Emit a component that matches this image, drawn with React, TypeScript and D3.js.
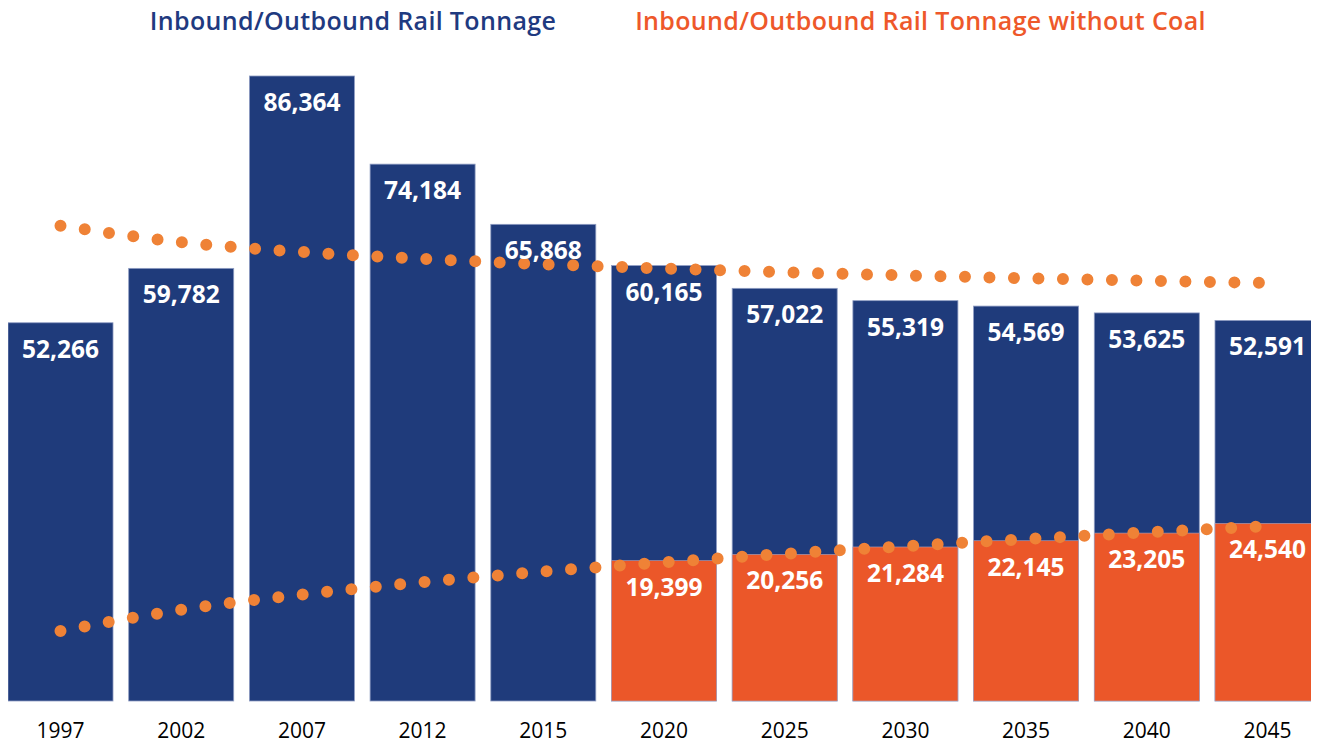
import React from "react";
import * as d3 from "d3";

const years = ["1997", "2002", "2007", "2012", "2015", "2020", "2025", "2030", "2035", "2040", "2045"];
const totalTonnage = [52266, 59782, 86364, 74184, 65868, 60165, 57022, 55319, 54569, 53625, 52591];
const withoutCoal: (number | null)[] = [null, null, null, null, null, 19399, 20256, 21284, 22145, 23205, 24540];
// dotted trend lines, values at each category
const totalTrend = [65680, 63390, 62050, 61100, 60360, 59760, 59250, 58810, 58420, 58080, 57760];
const noCoalTrend = [9670, 12600, 14710, 16420, 17880, 19170, 20330, 21400, 22380, 23300, 24160];
const titles = ["Inbound/Outbound Rail Tonnage", "Inbound/Outbound Rail Tonnage without Coal"];

const W = 1319;
const H = 745;
const BLUE = "#1F3B7B";
const ORANGE = "#EB5729";
const DOT = "#EF8236";

export default function App() {
  const x = d3.scaleBand<string>().domain(years).range([8, 1320]).paddingInner(0.13).paddingOuter(0);
  const y = d3.scaleLinear().domain([0, 90000]).range([701, 701 - 90000 * 0.0072368]);
  const fmt = d3.format(",");
  const cx = (i: number) => (x(years[i]) as number) + x.bandwidth() / 2;
  const line = d3
    .line<number>()
    .x((_, i) => cx(i))
    .y((d) => y(d))
    .curve(d3.curveMonotoneX);

  const labelFont = { fontFamily: "'Open Sans', sans-serif", fontWeight: 700, fontSize: 24.5 };
  const titleFont = { fontFamily: "'Open Sans', sans-serif", fontWeight: 600, fontSize: 25, letterSpacing: 0.35 };

  return (
    <svg width={W} height={H} style={{ display: "block", overflow: "hidden", margin: "-8px 0 0 -8px" }}>
      <text x={353} y={29.5} textAnchor="middle" fill="#1F3A80" style={titleFont}>
        {titles[0]}
      </text>
      <text x={920.5} y={29.5} textAnchor="middle" fill="#EE582A" style={titleFont}>
        {titles[1]}
      </text>
      {totalTonnage.map((v, i) => (
        <rect key={"b" + i} x={x(years[i])} y={y(v)} width={x.bandwidth()} height={y(0) - y(v)} fill={BLUE} stroke="#8E9CC2" strokeWidth={0.8} />
      ))}
      {withoutCoal.map((v, i) =>
        v == null ? null : (
          <rect key={"o" + i} x={x(years[i])} y={y(v)} width={x.bandwidth()} height={y(0) - y(v)} fill={ORANGE} stroke="#A9A4C0" strokeWidth={0.6} />
        )
      )}
      <path d={line(totalTrend) || ""} fill="none" stroke={DOT} strokeWidth={12} strokeLinecap="round" strokeDasharray="0 24.5" />
      <path d={line(noCoalTrend) || ""} fill="none" stroke={DOT} strokeWidth={12} strokeLinecap="round" strokeDasharray="0 24.5" />
      {totalTonnage.map((v, i) => (
        <text key={"lb" + i} x={cx(i)} y={y(v) + 35} textAnchor="middle" fill="#fff" style={labelFont}>
          {fmt(v)}
        </text>
      ))}
      {withoutCoal.map((v, i) =>
        v == null ? null : (
          <text key={"lo" + i} x={cx(i)} y={y(v) + 35} textAnchor="middle" fill="#fff" style={labelFont}>
            {fmt(v)}
          </text>
        )
      )}
      {years.map((yr, i) => (
        <text key={"a" + i} x={cx(i)} y={738} textAnchor="middle" fill="#000" style={{ fontFamily: "'Open Sans', sans-serif", fontSize: 21 }}>
          {yr}
        </text>
      ))}
    </svg>
  );
}
